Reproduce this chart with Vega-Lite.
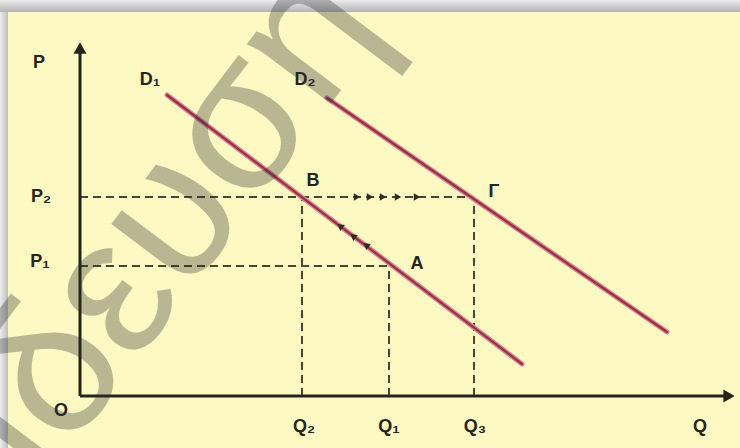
{
  "$schema": "https://vega.github.io/schema/vega-lite/v6.json",
  "width": 740,
  "height": 448,
  "padding": 0,
  "autosize": {"type": "fit", "contains": "padding"},
  "background": "#f2f2f2",
  "config": {"view": {"stroke": null}},
  "datasets": {
    "panel": [{"q": -7.2, "q2": 66, "p": 38.4, "p2": -5.2}],
    "shadeTop": [{"q": -8, "q2": 66, "p": 39.6, "p2": 38.4}],
    "shadeLeft": [{"q": -8, "q2": -7.2, "p": 38.4, "p2": -5.2}],
    "axes": [
      {"name": "P", "q": 0, "p": 0, "q2": 0, "p2": 34.4},
      {"name": "Q", "q": 0, "p": 0, "q2": 64.4, "p2": 0}
    ],
    "arrowP": [{"q": 0, "p": 34.8}],
    "arrowQ": [{"q": 64.9, "p": 0}],
    "guides": [
      {"name": "P2", "q": 0, "p": 19.9, "q2": 39.4, "p2": 19.9},
      {"name": "P1", "q": 0, "p": 13.0, "q2": 30.9, "p2": 13.0},
      {"name": "Q2", "q": 22.2, "p": 0, "q2": 22.2, "p2": 19.9},
      {"name": "Q1", "q": 30.9, "p": 0, "q2": 30.9, "p2": 13.0},
      {"name": "Q3", "q": 39.4, "p": 0, "q2": 39.4, "p2": 19.9}
    ],
    "demand": [
      {"curve": "D1", "q": 8.7, "p": 30.1, "q2": 44.2, "p2": 3.2},
      {"curve": "D2", "q": 24.7, "p": 29.8, "q2": 58.7, "p2": 6.4}
    ],
    "shiftRight": [
      {"q": 27.7, "p": 19.9},
      {"q": 29.0, "p": 19.9},
      {"q": 30.3, "p": 19.9},
      {"q": 31.8, "p": 19.9},
      {"q": 33.7, "p": 19.9}
    ],
    "moveAlong": [
      {"q": 26.0, "p": 17.0},
      {"q": 27.3, "p": 16.0},
      {"q": 28.6, "p": 15.1}
    ],
    "labels": [
      {"t": "P", "q": -4.1, "p": 33.3},
      {"t": "D₁", "q": 7.0, "p": 31.6},
      {"t": "D₂", "q": 22.5, "p": 31.6},
      {"t": "B", "q": 23.3, "p": 21.5},
      {"t": "Γ", "q": 41.4, "p": 20.4},
      {"t": "P₂", "q": -3.9, "p": 19.9},
      {"t": "P₁", "q": -4.0, "p": 13.4},
      {"t": "A", "q": 33.7, "p": 13.2},
      {"t": "O", "q": -1.9, "p": -1.5},
      {"t": "Q₂", "q": 22.4, "p": -3.1},
      {"t": "Q₁", "q": 30.9, "p": -3.1},
      {"t": "Q₃", "q": 39.5, "p": -3.1},
      {"t": "Q", "q": 62.0, "p": -3.1}
    ],
    "stamp": [{"t": "εκπαίδευση", "q": 30.8, "p": 36.8}]
  },
  "encoding": {
    "x": {"field": "q", "type": "quantitative", "scale": {"domain": [-8, 66], "nice": false, "zero": false}, "axis": null},
    "y": {"field": "p", "type": "quantitative", "scale": {"domain": [-5.2, 39.6], "nice": false, "zero": false}, "axis": null}
  },
  "layer": [
    {
      "data": {"name": "shadeTop"},
      "mark": {"type": "rect", "fill": {"gradient": "linear", "x1": 0, "y1": 0, "x2": 0, "y2": 1, "stops": [{"offset": 0, "color": "#ececec"}, {"offset": 1, "color": "#b4b4b4"}]}},
      "encoding": {"x2": {"field": "q2"}, "y2": {"field": "p2"}}
    },
    {
      "data": {"name": "shadeLeft"},
      "mark": {"type": "rect", "fill": {"gradient": "linear", "x1": 0, "y1": 0, "x2": 1, "y2": 0, "stops": [{"offset": 0, "color": "#ececec"}, {"offset": 1, "color": "#bdbdbd"}]}},
      "encoding": {"x2": {"field": "q2"}, "y2": {"field": "p2"}}
    },
    {
      "data": {"name": "panel"},
      "mark": {"type": "rect", "fill": "#fcf9c3"},
      "encoding": {"x2": {"field": "q2"}, "y2": {"field": "p2"}}
    },
    {
      "data": {"name": "guides"},
      "mark": {"type": "rule", "stroke": "#47462f", "strokeWidth": 2, "strokeDash": [8, 5]},
      "encoding": {"x2": {"field": "q2"}, "y2": {"field": "p2"}}
    },
    {
      "data": {"name": "demand"},
      "mark": {"type": "rule", "stroke": "#d88592", "strokeWidth": 5, "strokeCap": "round"},
      "encoding": {"x2": {"field": "q2"}, "y2": {"field": "p2"}}
    },
    {
      "data": {"name": "demand"},
      "mark": {"type": "rule", "stroke": "#9a2e45", "strokeWidth": 2.2, "strokeCap": "round"},
      "encoding": {"x2": {"field": "q2"}, "y2": {"field": "p2"}}
    },
    {
      "data": {"name": "axes"},
      "mark": {"type": "rule", "stroke": "#25241a", "strokeWidth": 3},
      "encoding": {"x2": {"field": "q2"}, "y2": {"field": "p2"}}
    },
    {
      "data": {"name": "arrowP"},
      "mark": {"type": "point", "shape": "triangle-up", "size": 170, "filled": true, "color": "#25241a", "opacity": 1}
    },
    {
      "data": {"name": "arrowQ"},
      "mark": {"type": "point", "shape": "triangle-right", "size": 170, "filled": true, "color": "#25241a", "opacity": 1}
    },
    {
      "data": {"name": "shiftRight"},
      "mark": {"type": "point", "shape": "triangle-right", "size": 55, "filled": true, "color": "#2e2d20", "opacity": 1}
    },
    {
      "data": {"name": "moveAlong"},
      "mark": {"type": "point", "shape": "triangle-up", "angle": -53, "size": 55, "filled": true, "color": "#2e2d20", "opacity": 1}
    },
    {
      "data": {"name": "labels"},
      "mark": {"type": "text", "font": "Liberation Sans", "fontSize": 18, "fontWeight": "bold", "color": "#26251b", "align": "center", "baseline": "middle"},
      "encoding": {"text": {"field": "t"}}
    },
    {
      "data": {"name": "stamp"},
      "mark": {"type": "text", "font": "Liberation Sans", "fontSize": 195, "fontWeight": "normal", "color": "#2e2e2e", "opacity": 0.32, "align": "right", "baseline": "alphabetic", "angle": -53, "clip": true},
      "encoding": {"text": {"field": "t"}}
    }
  ]
}
